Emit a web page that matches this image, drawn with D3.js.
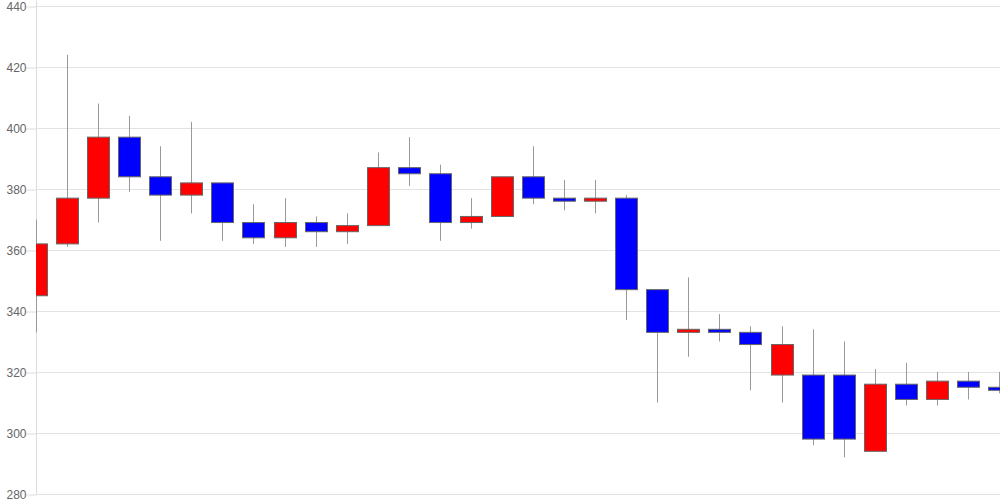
<!DOCTYPE html>
<html><head><meta charset="utf-8">
<script src="https://cdn.jsdelivr.net/npm/d3@7"></script>
<style>body{margin:0;background:#fff}svg{display:block}</style>
</head><body><svg id="c" width="1000" height="500"></svg>
<script>
const days = d3.range(1, 33);
const open  = [345,362,377,397,384,378,382,369,364,369,366,368,387,385,369,371,384,377,376,377,347,333,334,333,319,319,319,294,316,311,317,315];
const close = [362,377,397,384,378,382,369,364,369,366,368,387,385,369,371,384,377,376,377,347,333,334,333,329,329,298,298,316,311,317,315,314];
const high  = [370,424,408,404,394,402,382,375,377,371,372,392,397,388,377,384,394,383,383,378,347,351,339,335,335,334,330,321,323,320,320,320];
const low   = [333,361,369,379,363,372,363,362,361,361,362,368,381,363,367,371,375,373,372,337,310,325,330,314,310,296,292,294,309,309,311,313];
const yTicks = [280,300,320,340,360,380,400,420,440];

const svg = d3.select("#c");
const L = 36, R = 1000, T = 6, B = 494;
const x = d3.scalePoint().domain(days).range([36, 999]);
const y = d3.scaleLinear().domain([280, 440]).range([B, T]);

svg.append("defs").append("clipPath").attr("id","clip")
  .append("rect").attr("x",L).attr("y",0).attr("width",R-L).attr("height",500);

// grid
svg.append("g").selectAll("line").data(yTicks).join("line")
  .attr("x1", L).attr("x2", R)
  .attr("y1", d => Math.round(y(d)) + 0.5).attr("y2", d => Math.round(y(d)) + 0.5)
  .attr("stroke", "#e2e2e2").attr("stroke-width", 1);

// axis
const ax = svg.append("g").attr("transform", `translate(${L + 0.5},0.5)`)
  .call(d3.axisLeft(y).tickValues(yTicks).tickSize(10).tickPadding(0).tickFormat(d3.format("d")));
ax.select(".domain").attr("stroke", "#dcdcdc").attr("d", `M0,${T - 6}V${B}`);
ax.selectAll(".tick line").attr("stroke", "#dcdcdc");
ax.selectAll(".tick text").attr("fill", "#666").attr("font-size", 12)
  .attr("font-family", "'Liberation Sans', Arial, sans-serif").attr("x", -10);

const g = svg.append("g").attr("clip-path", "url(#clip)");
const data = days.map((d, i) => ({d, o: open[i], c: close[i], h: high[i], l: low[i]}));
const bw = 22;

g.selectAll("line.w").data(data).join("line").attr("class","w")
  .attr("x1", d => Math.round(x(d.d)) + 0.5).attr("x2", d => Math.round(x(d.d)) + 0.5)
  .attr("y1", d => y(d.h)).attr("y2", d => y(d.l))
  .attr("stroke", "#999").attr("stroke-width", 1);

g.selectAll("rect.b").data(data).join("rect").attr("class","b")
  .attr("x", d => Math.round(x(d.d)) - bw/2 + 0.5)
  .attr("width", bw)
  .attr("y", d => y(Math.max(d.o, d.c)))
  .attr("height", d => Math.max(1, Math.abs(y(d.o) - y(d.c))))
  .attr("fill", d => d.c >= d.o ? "#ff0000" : "#0000ff")
  .attr("stroke", "#666").attr("stroke-width", 1);
</script></body></html>
